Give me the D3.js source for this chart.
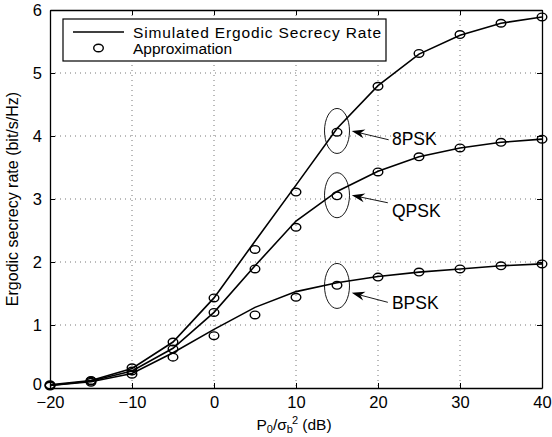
<!DOCTYPE html>
<html>
<head>
<meta charset="utf-8">
<script src="https://cdn.jsdelivr.net/npm/d3@7"></script>
<style>
  body { margin: 0; background: #fff; }
  text { font-family: "Liberation Sans", Arial, Helvetica, sans-serif; fill: #000; }
</style>
</head>
<body>
<div class="graph"></div>
<script>
// SNR values (dB)
var snr = [-20, -15, -10, -5, 0, 5, 10, 15, 20, 25, 30, 35, 40];

// Simulated ergodic secrecy rate (lines)
var sim8psk = [0.05, 0.12, 0.31, 0.73, 1.43, 2.33, 3.22, 4.12, 4.80, 5.30, 5.60, 5.79, 5.89];
var simQpsk = [0.04, 0.11, 0.27, 0.63, 1.20, 1.94, 2.65, 3.12, 3.44, 3.67, 3.81, 3.90, 3.95];
var simBpsk = [0.04, 0.10, 0.23, 0.56, 0.93, 1.28, 1.53, 1.67, 1.77, 1.84, 1.89, 1.94, 1.97];

// Approximation (circles)
var app8psk = [0.05, 0.12, 0.32, 0.73, 1.43, 2.20, 3.11, 4.06, 4.79, 5.31, 5.61, 5.79, 5.89];
var appQpsk = [0.04, 0.11, 0.27, 0.62, 1.20, 1.89, 2.55, 3.05, 3.43, 3.67, 3.81, 3.90, 3.95];
var appBpsk = [0.03, 0.09, 0.22, 0.49, 0.83, 1.16, 1.44, 1.63, 1.76, 1.84, 1.89, 1.94, 1.97];

// Ticks
var xTicks = [-20, -10, 0, 10, 20, 30, 40];
var yTicks = [0, 1, 2, 3, 4, 5, 6];

// Annotations: label, ellipse centre y, arrow tail (x,y), arrow tip (x,y), text (x,y)
var annLabels = ["8PSK", "QPSK", "BPSK"];
var annEllipseY = [4.08, 3.06, 1.62];
var annTailX = [21.3, 21.2, 21.2];
var annTailY = [3.94, 2.94, 1.36];
var annTipX = [16.8, 16.8, 16.8];
var annTipY = [4.08, 3.06, 1.51];
var annTextX = [21.7, 21.7, 21.7];
var annTextY = [3.86, 2.72, 1.26];
var annEllipseX = 15;

var legendLabels = ["Simulated Ergodic Secrecy Rate", "Approximation"];

const margin = {top: 10, right: 10, bottom: 49, left: 50},
  width = 552 - margin.left - margin.right,
  height = 437 - margin.top - margin.bottom;

var svg = d3.select(".graph")
  .append("svg")
  .attr("width", 552)
  .attr("height", 437)
  .append("g")
  .attr("transform", "translate(" + margin.left + "," + margin.top + ")");

var x = d3.scaleLinear().domain([-20, 40]).range([0, width]);
var y = d3.scaleLinear().domain([0, 6]).range([height, 0]);

// grid
svg.append("g").selectAll("line")
  .data(xTicks.slice(1, -1))
  .enter().append("line")
  .attr("x1", d => x(d)).attr("x2", d => x(d))
  .attr("y1", 0).attr("y2", height)
  .attr("stroke", "#777").attr("stroke-width", 1)
  .attr("stroke-dasharray", "1,4");
svg.append("g").selectAll("line")
  .data(yTicks.slice(1, -1))
  .enter().append("line")
  .attr("y1", d => y(d)).attr("y2", d => y(d))
  .attr("x1", 0).attr("x2", width)
  .attr("stroke", "#777").attr("stroke-width", 1)
  .attr("stroke-dasharray", "1,4");

// axes (inside ticks, box)
svg.append("g")
  .attr("transform", "translate(0," + height + ")")
  .call(d3.axisBottom(x).tickValues(xTicks).tickSizeInner(-5).tickSizeOuter(0).tickPadding(8)
    .tickFormat(d => d < 0 ? "\u2212" + Math.abs(d) : d))
  .call(g => g.selectAll("text").style("font-size", "16.5px"));
svg.append("g")
  .call(d3.axisTop(x).tickValues(xTicks).tickSizeInner(-5).tickSizeOuter(0).tickFormat(""));
svg.append("g")
  .call(d3.axisLeft(y).tickValues(yTicks).tickSizeInner(-5).tickSizeOuter(0).tickPadding(8)
    .tickFormat(d3.format("d")))
  .call(g => g.selectAll("text").style("font-size", "16.5px"))
  .call(g => g.selectAll(".tick text").filter(d => d === 0).attr("dy", "0.1em"));
svg.append("g")
  .attr("transform", "translate(" + width + ",0)")
  .call(d3.axisRight(y).tickValues(yTicks).tickSizeInner(-5).tickSizeOuter(0).tickFormat(""));
svg.selectAll(".domain").attr("stroke", "#000").attr("stroke-width", 1.3);
svg.selectAll(".tick line").attr("stroke", "#000");

// lines
var line = d3.line()
  .x((d, i) => x(snr[i]))
  .y(d => y(d));

[sim8psk, simQpsk, simBpsk].forEach(function(s) {
  svg.append("path")
    .datum(s)
    .attr("d", line)
    .attr("fill", "none")
    .attr("stroke", "#000")
    .attr("stroke-width", 1.6);
});

// approximation markers
[app8psk, appQpsk, appBpsk].forEach(function(s) {
  svg.append("g").selectAll("ellipse")
    .data(s)
    .enter().append("ellipse")
    .attr("cx", (d, i) => x(snr[i]))
    .attr("cy", d => y(d))
    .attr("rx", 4.8).attr("ry", 3.8)
    .attr("fill", "none")
    .attr("stroke", "#000")
    .attr("stroke-width", 1.4);
});

// annotations
var ann = svg.append("g");
annLabels.forEach(function(lbl, i) {
  ann.append("ellipse")
    .attr("cx", x(annEllipseX))
    .attr("cy", y(annEllipseY[i]))
    .attr("rx", 12.5).attr("ry", 22.5)
    .attr("fill", "none").attr("stroke", "#000").attr("stroke-width", 0.9);

  var x1 = x(annTailX[i]), y1 = y(annTailY[i]), x2 = x(annTipX[i]), y2 = y(annTipY[i]);
  var ang = Math.atan2(y2 - y1, x2 - x1);
  var len = 13, half = 4.5, back = 9;
  // shaft
  ann.append("line")
    .attr("x1", x1).attr("y1", y1)
    .attr("x2", x2 - Math.cos(ang) * back).attr("y2", y2 - Math.sin(ang) * back)
    .attr("stroke", "#000").attr("stroke-width", 0.9);
  // head
  var c = Math.cos(ang), s = Math.sin(ang);
  var bx = x2 - c * len, by = y2 - s * len;
  var mx = x2 - c * back, my = y2 - s * back;
  ann.append("path")
    .attr("d", "M" + x2 + "," + y2 +
      "L" + (bx - s * half) + "," + (by + c * half) +
      "L" + mx + "," + my +
      "L" + (bx + s * half) + "," + (by - c * half) + "Z")
    .attr("fill", "#000");

  ann.append("text")
    .attr("x", x(annTextX[i]))
    .attr("y", y(annTextY[i]))
    .style("font-size", "17.5px")
    .text(lbl);
});

// legend
var lg = svg.append("g");
lg.append("rect")
  .attr("x", 13).attr("y", 9)
  .attr("width", 323).attr("height", 42)
  .attr("fill", "#fff").attr("stroke", "#000").attr("stroke-width", 1.2);
lg.append("line")
  .attr("x1", 23).attr("x2", 74).attr("y1", 22).attr("y2", 22)
  .attr("stroke", "#000").attr("stroke-width", 1.6);
lg.append("ellipse")
  .attr("cx", 48.5).attr("cy", 38).attr("rx", 4.8).attr("ry", 3.8)
  .attr("fill", "none").attr("stroke", "#000").attr("stroke-width", 1.4);
lg.selectAll("text.lg")
  .data(legendLabels)
  .enter().append("text")
  .attr("class", "lg")
  .attr("x", 83)
  .attr("y", (d, i) => 27.5 + i * 16.5)
  .style("font-size", "15.5px")
  .attr("textLength", (d, i) => i === 0 ? 248 : null)
  .text(d => d);

// axis titles
var xl = svg.append("text")
  .attr("x", width / 2 - 2)
  .attr("y", height + 42)
  .attr("text-anchor", "middle")
  .style("font-size", "15.5px");
xl.append("tspan").text("P");
xl.append("tspan").attr("dy", 2.5).style("font-size", "11px").text("0");
xl.append("tspan").attr("dy", -2.5).text("/\u03c3");
xl.append("tspan").attr("dy", 2.5).style("font-size", "11px").text("b");
xl.append("tspan").attr("dx", -1).attr("dy", -8.5).style("font-size", "11px").text("2");
xl.append("tspan").attr("dy", 6).text(" (dB)");

svg.append("text")
  .attr("transform", "translate(" + (-32) + "," + (height / 2) + ") rotate(-90)")
  .attr("text-anchor", "middle")
  .style("font-size", "16px")
  .text("Ergodic secrecy rate (bit/s/Hz)");
</script>
</body>
</html>
